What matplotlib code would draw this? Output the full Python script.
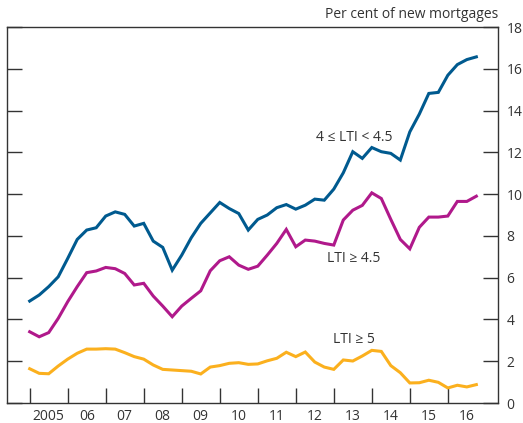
import numpy as np
import matplotlib
matplotlib.use("Agg")
import matplotlib.pyplot as plt

# quarterly observations, 2005 Q1 to 2016 Q4
quarters = 2005 + np.arange(48) / 4.0

lti_4_to_45 = [4.88, 5.17, 5.57, 6.04, 6.92, 7.83, 8.28, 8.39, 8.95, 9.15,
               9.03, 8.47, 8.60, 7.75, 7.45, 6.36, 7.08, 7.91, 8.60, 9.10,
               9.60, 9.31, 9.07, 8.28, 8.79, 9.00, 9.35, 9.50, 9.28, 9.47,
               9.76, 9.71, 10.24, 11.02, 12.03, 11.71, 12.23, 12.03, 11.95, 11.63,
               12.98, 13.83, 14.82, 14.87, 15.69, 16.20, 16.44, 16.57]

lti_ge_45 = [3.41, 3.17, 3.37, 4.05, 4.85, 5.57, 6.24, 6.32, 6.49, 6.43,
             6.20, 5.65, 5.73, 5.12, 4.64, 4.13, 4.64, 5.01, 5.37, 6.33,
             6.81, 7.00, 6.60, 6.40, 6.55, 7.08, 7.64, 8.31, 7.48, 7.80,
             7.75, 7.64, 7.56, 8.76, 9.23, 9.46, 10.06, 9.79, 8.79, 7.83,
             7.38, 8.41, 8.90, 8.90, 8.95, 9.65, 9.65, 9.90]

lti_ge_5 = [1.64, 1.42, 1.40, 1.77, 2.10, 2.38, 2.58, 2.58, 2.60, 2.58,
            2.41, 2.22, 2.10, 1.82, 1.61, 1.58, 1.55, 1.52, 1.39, 1.72,
            1.79, 1.90, 1.93, 1.85, 1.87, 2.02, 2.14, 2.43, 2.22, 2.44,
            1.96, 1.72, 1.61, 2.06, 2.01, 2.25, 2.52, 2.47, 1.79, 1.45,
            0.96, 0.97, 1.09, 0.99, 0.72, 0.85, 0.77, 0.88]

years = list(range(2005, 2017))
year_labels = ["2005"] + ["%02d" % (y % 100) for y in years[1:]]

series_labels = ["4 \u2264 LTI < 4.5", "LTI \u2265 4.5", "LTI \u2265 5"]
label_pos = [(2013.53, 12.7), (2013.53, 6.94), (2013.53, 3.05)]

plt.rcParams['font.family'] = ['Open Sans', 'DejaVu Sans']
plt.rcParams['font.size'] = 10
text_col = '#333333'

fig = plt.figure(figsize=(5.23, 4.23), dpi=100)
ax = fig.add_axes([7 / 523, 20 / 423, 491 / 523, 376 / 423])

colors = ['#005a8f', '#b0198b', '#fbb01e']
for vals, c in zip([lti_4_to_45, lti_ge_45, lti_ge_5], colors):
    ax.plot(quarters, vals, color=c, lw=2.2, solid_joinstyle='miter')

for (x, y), txt in zip(label_pos, series_labels):
    ax.text(x, y, txt, ha='center', va='center', color=text_col, fontsize=10)

ax.set_xlim(2004.403, 2017.32)
ax.set_ylim(0, 18)

# year boundaries as ticks, labels in between
ax.set_xticks(years)
ax.set_xticklabels([])
ax.set_xticks([y + 0.5 for y in years], minor=True)
ax.set_xticklabels(year_labels, minor=True)
ax.tick_params(axis='x', which='major', direction='in', length=11, width=1, color=text_col)
ax.tick_params(axis='x', which='minor', length=0, pad=4, labelcolor=text_col)

ax.set_yticks(range(0, 19, 2))
ax.yaxis.tick_right()
ax.tick_params(axis='y', direction='in', length=11, width=1, left=True, right=True,
               labelleft=False, labelright=True, pad=6, labelcolor=text_col, color=text_col)

for s in ax.spines.values():
    s.set_color(text_col)
    s.set_linewidth(1)

ax.text(1.0, 1.012, "Per cent of new mortgages", transform=ax.transAxes,
        ha='right', va='bottom', color=text_col, fontsize=10)

fig.savefig("out.png", dpi=100)
